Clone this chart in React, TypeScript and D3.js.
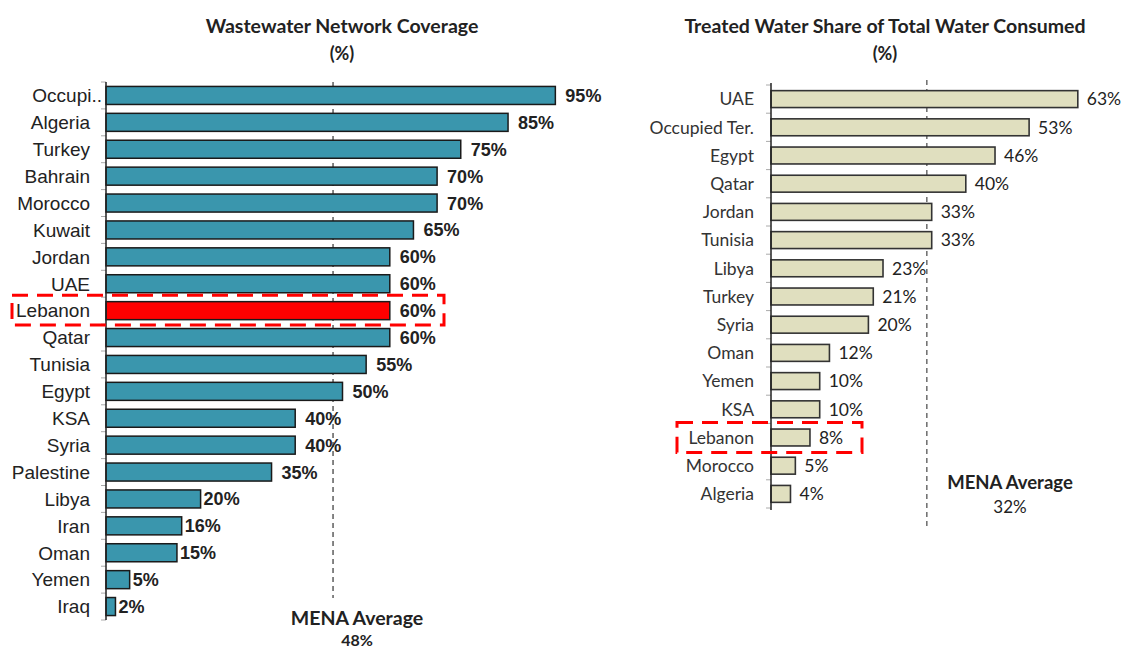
import * as d3 from "d3";

// Left panel: wastewater network coverage (%)
const wwCountries = [
  "Occupi..", "Algeria", "Turkey", "Bahrain", "Morocco", "Kuwait", "Jordan", "UAE",
  "Lebanon", "Qatar", "Tunisia", "Egypt", "KSA", "Syria", "Palestine", "Libya",
  "Iran", "Oman", "Yemen", "Iraq",
];
const wwValues = [95, 85, 75, 70, 70, 65, 60, 60, 60, 60, 55, 50, 40, 40, 35, 20, 16, 15, 5, 2];
const wwAverage = 48;

// Right panel: treated water share of total water consumed (%)
const twCountries = [
  "UAE", "Occupied Ter.", "Egypt", "Qatar", "Jordan", "Tunisia", "Libya", "Turkey",
  "Syria", "Oman", "Yemen", "KSA", "Lebanon", "Morocco", "Algeria",
];
const twValues = [63, 53, 46, 40, 33, 33, 23, 21, 20, 12, 10, 10, 8, 5, 4];
const twAverage = 32;

const highlight = "Lebanon";
const TITLE_FONT = "Lato, 'Open Sans', sans-serif";
const ARIAL = "'Liberation Sans', Arial, sans-serif";

export default function App() {
  // left scales
  const xL = d3.scaleLinear().domain([0, 100]).range([106, 579]);
  const yL = d3.scaleBand<string>().domain(wwCountries).range([82, 620]).paddingInner(0.33).paddingOuter(0.165);
  // right scales
  const xR = d3.scaleLinear().domain([0, 100]).range([771, 1258]);
  const yR = d3.scaleBand<string>().domain(twCountries).range([85, 508]).paddingInner(0.4).paddingOuter(0.2);

  const stepL = yL.step();
  const stepR = yR.step();
  const lebL = yL(highlight)!;
  const lebR = yR(highlight)!;

  return (
    <svg width={1126} height={651} style={{ position: "absolute", left: 0, top: 0, background: "#fff" }}>
      {/* ---------- left chart ---------- */}
      <text x={342} y={33} textAnchor="middle" fontFamily={TITLE_FONT} fontWeight="bold" fontSize={19.5} fill="#222">
        Wastewater Network Coverage
      </text>
      <text x={342} y={60} textAnchor="middle" fontFamily={TITLE_FONT} fontWeight="bold" fontSize={18} fill="#222">
        (%)
      </text>

      {/* tick marks */}
      {d3.range(wwCountries.length + 1).map((i) => {
        const y = 82 + i * stepL;
        return <line key={i} x1={101} x2={106} y1={y} y2={y} stroke="#aaa" strokeWidth={1} />;
      })}

      <line x1={xL(wwAverage)} x2={xL(wwAverage)} y1={82} y2={598} stroke="#444" strokeWidth={1.3} strokeDasharray="5,4" />

      {wwCountries.map((c, i) => {
        const y = yL(c)!;
        const h = yL.bandwidth();
        return (
          <g key={c}>
            <rect
              x={xL(0)}
              y={y}
              width={xL(wwValues[i]) - xL(0)}
              height={h}
              fill={c === highlight ? "#ff0000" : "#3a96ad"}
              stroke="#1a1a1a"
              strokeWidth={1.5}
            />
            <text
              x={c.endsWith("..") ? 102 : 90}
              y={y + h / 2}
              dy="0.36em"
              textAnchor="end"
              fontFamily={ARIAL}
              fontSize={19}
              fill="#222"
            >
              {c}
            </text>
            <text
              x={xL(wwValues[i]) + (wwValues[i] < 25 ? 3 : 10)}
              y={y + h / 2}
              dy="0.36em"
              fontFamily={ARIAL}
              fontWeight="bold"
              fontSize={18}
              fill="#222"
            >
              {wwValues[i]}%
            </text>
          </g>
        );
      })}
      <line x1={106} x2={106} y1={82} y2={620} stroke="#222" strokeWidth={1.5} />

      <rect
        x={12}
        y={lebL - (stepL - yL.bandwidth()) / 2 - 2}
        width={432}
        height={stepL + 3}
        fill="none"
        stroke="#ff0000"
        strokeWidth={3}
        strokeDasharray="16,9"
      />

      <text x={357} y={625} textAnchor="middle" fontFamily={TITLE_FONT} fontWeight="bold" fontSize={19.5} fill="#222">
        MENA Average
      </text>
      <text x={357} y={646} textAnchor="middle" fontFamily={TITLE_FONT} fontWeight="bold" fontSize={16} fill="#222">
        {wwAverage}%
      </text>

      {/* ---------- right chart ---------- */}
      <text x={885} y={33} textAnchor="middle" fontFamily={TITLE_FONT} fontWeight="bold" fontSize={19.5} fill="#222">
        Treated Water Share of Total Water Consumed
      </text>
      <text x={885} y={60} textAnchor="middle" fontFamily={TITLE_FONT} fontWeight="bold" fontSize={18} fill="#222">
        (%)
      </text>

      {d3.range(twCountries.length + 1).map((i) => {
        const y = 85 + i * stepR;
        return <line key={i} x1={766} x2={771} y1={y} y2={y} stroke="#aaa" strokeWidth={1} />;
      })}

      <line x1={xR(twAverage)} x2={xR(twAverage)} y1={80} y2={526} stroke="#555" strokeWidth={1.3} strokeDasharray="5,4" />

      {twCountries.map((c, i) => {
        const y = yR(c)!;
        const h = yR.bandwidth();
        return (
          <g key={c}>
            <rect
              x={xR(0)}
              y={y}
              width={xR(twValues[i]) - xR(0)}
              height={h}
              fill="#e0dfbf"
              stroke="#333"
              strokeWidth={1.6}
            />
            <text x={754} y={y + h / 2} dy="0.36em" textAnchor="end" fontFamily={TITLE_FONT} fontSize={17.5} fill="#333">
              {c}
            </text>
            <text x={xR(twValues[i]) + 9} y={y + h / 2} dy="0.36em" fontFamily={TITLE_FONT} fontSize={17.5} fill="#222">
              {twValues[i]}%
            </text>
          </g>
        );
      })}
      <line x1={771} x2={771} y1={83} y2={510} stroke="#222" strokeWidth={1.5} />

      <rect
        x={677}
        y={lebR - (stepR - yR.bandwidth()) / 2 - 1}
        width={185}
        height={stepR + 2}
        fill="none"
        stroke="#ff0000"
        strokeWidth={3}
        strokeDasharray="16,9"
      />

      <text x={1010} y={489} textAnchor="middle" fontFamily={TITLE_FONT} fontWeight="bold" fontSize={18.5} fill="#222">
        MENA Average
      </text>
      <text x={1010} y={513} textAnchor="middle" fontFamily={TITLE_FONT} fontSize={17} fill="#222">
        {twAverage}%
      </text>
    </svg>
  );
}
